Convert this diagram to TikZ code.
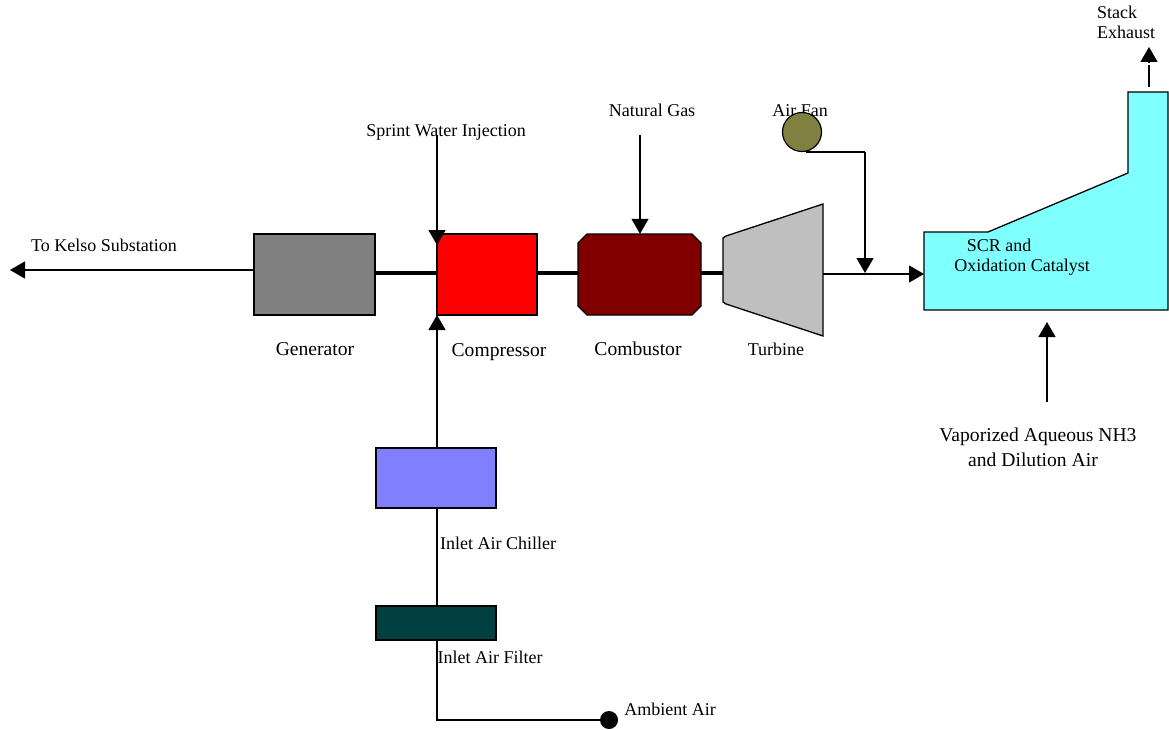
\documentclass[tikz,border=0pt]{standalone}
\usepackage{fontspec}
\setmainfont{Liberation Serif}
\usetikzlibrary{arrows.meta,calc}
\tikzset{
  unit/.style={draw=black,line width=1.3pt,rectangle,inner sep=0pt},
  lbl/.style={font=\fontsize{18}{20}\selectfont,inner sep=0pt,text=black,text height=12pt,text depth=4pt,yshift=-2pt},
  lblwide/.style={lbl,font=\fontsize{19.6}{20}\selectfont},
  flow/.style={draw=black,line width=1.3pt,-{Triangle[length=15pt,width=17pt]}},
  plain/.style={draw=black,line width=1.3pt},
  shaft/.style={draw=black,line width=3.2pt},
  vessel/.style={draw=black,line width=1.3pt,line join=miter}
}
\begin{document}
\begin{tikzpicture}[x=1pt,y=-1pt]
\useasboundingbox (0,0) rectangle (1169,730);
% labels
\node[lbl] (tkelso) at (104,245) {To Kelso Substation};
\node[lblwide] (tgen) at (315,349) {Generator};
\node[lblwide] (tcomp) at (499,350) {Compressor};
\node[lblwide] (tcomb) at (638,349) {Combustor};
\node[lbl] (tturb) at (776,349) {Turbine};
\node[lbl] (tspr) at (446,131) {Sprint Water Injection};
\node[lbl] (tgas) at (652,111) {Natural Gas};
\node[lbl] (tfan) at (800,111) {Air Fan};
\node[lbl,anchor=west] (tstack) at (1097,13) {Stack};
\node[lbl,anchor=west] (texh) at (1097,33) {Exhaust};
\node[lblwide] (tvap) at (1038,435) {Vaporized Aqueous NH3};
\node[lblwide] (tdil) at (1033,460) {and Dilution Air};
\node[lbl] (tchill) at (498,543) {Inlet Air Chiller};
\node[lbl] (tfilt) at (490,657) {Inlet Air Filter};
\node[lbl] (tamb) at (670,709) {Ambient Air};
% helper coordinates
\coordinate (fanout) at (806,152);
\coordinate (fanbend) at (865,152);
\coordinate (fanjoin) at (865,273);
\coordinate (turbout) at (823,274);
\coordinate (hin) at (924,274);
\coordinate (stacktop) at (1149,87);
\coordinate (stackend) at (1149,47);
\coordinate (vapstart) at (1047,402);
\coordinate (vapend) at (1047,322);
\coordinate (sprstart) at (437,135);
\coordinate (sprend) at (437,245);
\coordinate (gasstart) at (640,135);
\coordinate (kelsoend) at (10,270);
\coordinate (ambbend) at (437,720);
\coordinate (compin) at (437,315);
% units
\node[unit,fill=gray,minimum width=121pt,minimum height=81pt] (gen) at (314.5,274.5) {};
\node[unit,fill=red,minimum width=100pt,minimum height=81pt] (comp) at (487,274.5) {};
\node[inner sep=0pt,minimum width=123pt,minimum height=81pt] (comb) at (639.5,274.5) {};
\draw[vessel,fill={rgb,255:red,128;green,0;blue,0}] (587,234) -- (692,234) -- (701,243) -- (701,306) -- (692,315) -- (587,315) -- (578,306) -- (578,243) -- cycle;
\draw[vessel,fill=black!25] (726,236) -- (823,204) coordinate (t2) -- (823,336) coordinate (t3) -- (726,304) -- (723,302) coordinate (t4) -- (723,238) coordinate (t1) -- cycle;
\draw[vessel,fill={rgb,255:red,128;green,255;blue,255}] (924,232) coordinate (h1) -- (988,232) -- (1128,173) -- (1128,92) -- (1168,92) -- (1168,310) coordinate (h2) -- (924,310) coordinate (h3) -- cycle;
\node[unit,fill={rgb,255:red,128;green,128;blue,255},minimum width=120pt,minimum height=60pt] (chill) at (436,478) {};
\node[unit,fill={rgb,255:red,0;green,64;blue,64},minimum width=120pt,minimum height=34pt] (filt) at (436,623) {};
\node[circle,draw=black,line width=1.2pt,fill={rgb,255:red,128;green,128;blue,64},minimum size=39pt,inner sep=0pt] (fan) at (802,132) {};
\node[circle,fill=black,minimum size=18pt,inner sep=0pt] (amb) at (609,720) {};
% label on vessel
\node[lbl] (tscr) at (999,245) {SCR and};
\node[lbl] (tcat) at (1022,265) {Oxidation Catalyst};
% connectors
\draw[flow] (gen.west |- kelsoend) -- (kelsoend);
\draw[shaft] (gen.east |- 0,273) -- (comp.west |- 0,273);
\draw[shaft] (comp.east |- 0,273) -- (comb.west |- 0,273);
\draw[shaft] (comb.east |- 0,273) -- (t1 |- 0,273);
\draw[flow] (sprstart) -- (sprend);
\draw[flow] (gasstart) -- (gasstart |- comb.north);
\draw[plain] (fanout) -- (fanbend);
\draw[flow] (fanbend) -- (fanjoin);
\draw[flow] (turbout) -- (hin);
\draw[plain] (stacktop) -- (1149,65);
\draw[-{Triangle[length=15pt,width=17pt]},line width=1.3pt] (1149,63) -- (stackend);
\draw[flow] (vapstart) -- (vapend);
\draw[flow] (chill.north -| compin) -- (compin);
\draw[plain] (filt.north -| compin) -- (chill.south -| compin);
\draw[plain] (amb.west) -- (ambbend) -- (filt.south -| ambbend);
\end{tikzpicture}
\end{document}
